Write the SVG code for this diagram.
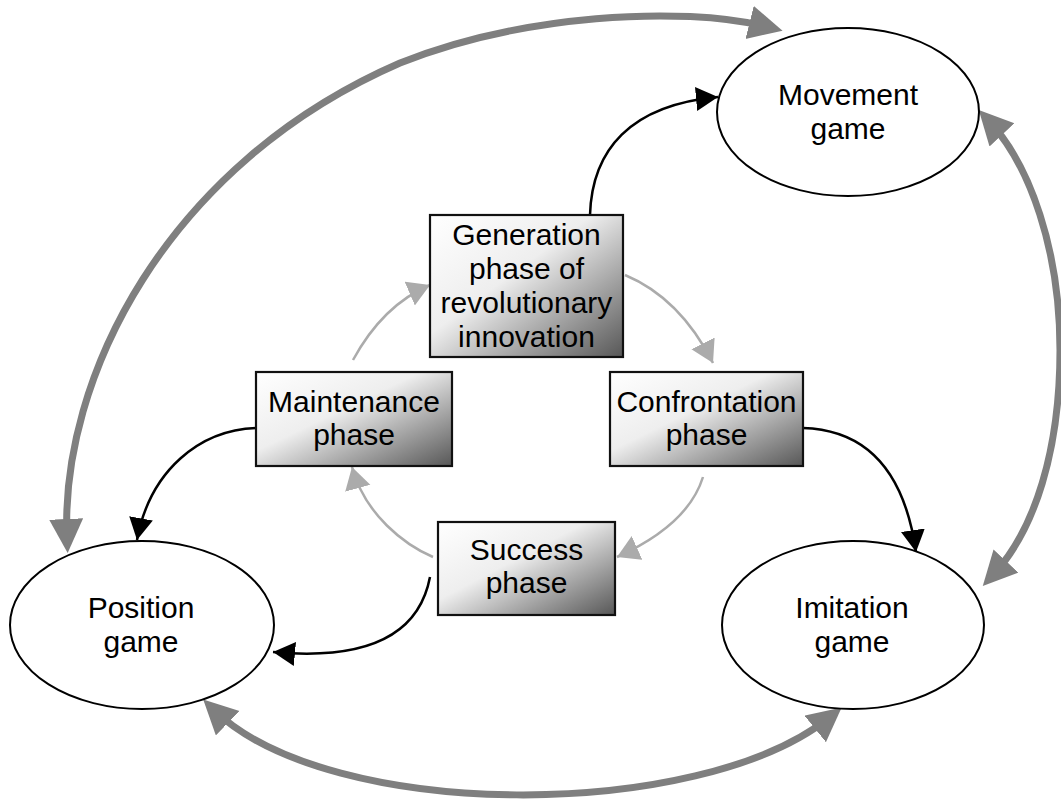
<svg xmlns="http://www.w3.org/2000/svg" width="1061" height="805" viewBox="0 0 1061 805">
<style>
text{font-family:"Liberation Sans",Arial,sans-serif;font-size:30px;fill:#000;text-anchor:middle}
.box{fill:url(#grad);stroke:#111;stroke-width:2.2}
.ell{fill:#fff;stroke:#000;stroke-width:2}
.thick{fill:none;stroke:#7f7f7f;stroke-width:7}
.blk{fill:none;stroke:#000;stroke-width:2.5}
.lt{fill:none;stroke:#ababab;stroke-width:2.5}
</style>
<defs>
<linearGradient id="grad" x1="0" y1="0" x2="1" y2="1">
<stop offset="0" stop-color="#ffffff"/>
<stop offset="0.42" stop-color="#eeeeee"/>
<stop offset="1" stop-color="#575757"/>
</linearGradient>
<marker id="aG" markerUnits="userSpaceOnUse" markerWidth="36" markerHeight="36" refX="19" refY="17" orient="auto-start-reverse">
<path d="M0,0 L34,17 L0,34 z" fill="#7f7f7f"/>
</marker>
<marker id="aB" markerUnits="userSpaceOnUse" markerWidth="24" markerHeight="26" refX="22" refY="12" orient="auto">
<path d="M0,0 L22,12 L0,24 z" fill="#000"/>
</marker>
<marker id="aL" markerUnits="userSpaceOnUse" markerWidth="24" markerHeight="28" refX="22" refY="13" orient="auto">
<path d="M0,0 L22,13 L0,26 z" fill="#ababab"/>
</marker>
</defs>
<g id="connectors">
<path class="thick" d="M 67 538 C 60 380, 165 165, 400 63 C 520 15, 680 5, 768 27" marker-start="url(#aG)" marker-end="url(#aG)"/>
<path class="thick" d="M 989 121 C 1030 165, 1060 250, 1060 350 C 1060 450, 1035 530, 993 575" marker-start="url(#aG)" marker-end="url(#aG)"/>
<path class="thick" d="M 214 710 C 330 822, 700 822, 830 717" marker-start="url(#aG)" marker-end="url(#aG)"/>
<path class="blk" d="M 590 215 C 592 150, 630 105, 718 97" marker-end="url(#aB)"/>
<path class="blk" d="M 803 428 C 870 430, 905 475, 916 552" marker-end="url(#aB)"/>
<path class="blk" d="M 256 428 C 200 430, 150 470, 137 540" marker-end="url(#aB)"/>
<path class="blk" d="M 430 577 C 418 640, 360 660, 273 652" marker-end="url(#aB)"/>
<path class="lt" d="M 353 360 Q 383 305 430 285" marker-end="url(#aL)"/>
<path class="lt" d="M 625 275 Q 680 298 713 363" marker-end="url(#aL)"/>
<path class="lt" d="M 703 477 Q 688 525 617 557" marker-end="url(#aL)"/>
<path class="lt" d="M 433 557 C 405 545, 365 515, 352 467" marker-end="url(#aL)"/>
</g>
<g id="movement">
<ellipse class="ell" cx="848" cy="112" rx="131" ry="84"/>
<text x="848" y="105">Movement</text>
<text x="848" y="139">game</text>
</g>
<g id="position">
<ellipse class="ell" cx="142" cy="625" rx="132" ry="84"/>
<text x="141" y="618">Position</text>
<text x="141" y="652">game</text>
</g>
<g id="imitation">
<ellipse class="ell" cx="853" cy="625" rx="131" ry="84"/>
<text x="852" y="618">Imitation</text>
<text x="852" y="652">game</text>
</g>
<g id="generation">
<rect class="box" x="430" y="215" width="193" height="142"/>
<text x="526.5" y="245">Generation</text>
<text x="526.5" y="279">phase of</text>
<text x="526.5" y="313">revolutionary</text>
<text x="526.5" y="347">innovation</text>
</g>
<g id="confrontation">
<rect class="box" x="610" y="372" width="193" height="94"/>
<text x="706.5" y="412">Confrontation</text>
<text x="706.5" y="445">phase</text>
</g>
<g id="maintenance">
<rect class="box" x="256" y="372" width="196" height="94"/>
<text x="354" y="412">Maintenance</text>
<text x="354" y="445">phase</text>
</g>
<g id="success">
<rect class="box" x="438" y="522" width="177" height="93"/>
<text x="526.5" y="560">Success</text>
<text x="526.5" y="593">phase</text>
</g>
</svg>
